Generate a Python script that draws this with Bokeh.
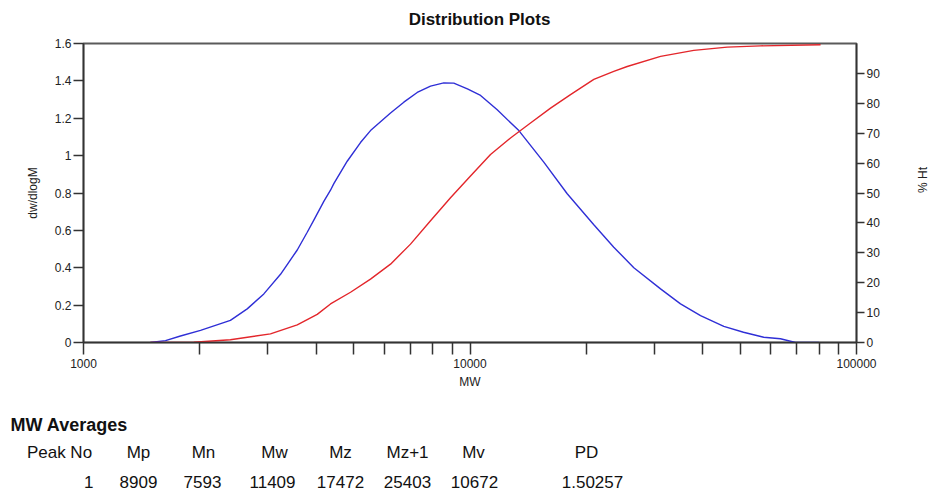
import math

from bokeh.core.properties import value
from bokeh.embed import file_html
from bokeh.layouts import column
from bokeh.models import (ColumnDataSource, CustomJSTickFormatter, FixedTicker,
                          LinearAxis, PrintfTickFormatter, Range1d)
from bokeh.plotting import figure
from bokeh.resources import INLINE

FONT = "Liberation Sans"

# Differential distribution dw/dlogM versus molecular weight
dist_mw = [1490, 1630, 1782, 2008, 2399, 2652, 2928, 3234, 3573, 3792, 3944,
           4186, 4356, 4443, 4812, 5208, 5528, 6228, 6742, 7302, 7904, 8554,
           9078, 9846, 10650, 11760, 13378, 15520, 17845, 20910, 23550, 26540,
           31120, 35050, 39490, 45360, 51010, 57540, 63560, 69500, 79900]
dist_dwdlogm = [0.0, 0.01, 0.035, 0.065, 0.118, 0.18, 0.26, 0.365, 0.495,
                0.59, 0.655, 0.755, 0.815, 0.85, 0.97, 1.07, 1.134, 1.228,
                1.286, 1.338, 1.372, 1.389, 1.388, 1.357, 1.322, 1.245, 1.134,
                0.965, 0.796, 0.63, 0.51, 0.40, 0.287, 0.207, 0.144, 0.086,
                0.055, 0.028, 0.02, 0.0, 0.0]

# Cumulative distribution (% Ht) versus molecular weight
cum_mw = [1490, 1930, 2399, 3046, 3573, 4024, 4356, 4908, 5528, 6228, 7016,
          7904, 8904, 10030, 11300, 12730, 14340, 16160, 18200, 20910, 23550,
          25510, 31120, 37930, 46290, 56430, 80730]
cum_pct = [0.0, 0.1, 0.9, 2.9, 5.9, 9.4, 12.9, 16.8, 21.2, 26.2, 32.9, 40.7,
           48.4, 55.7, 62.9, 68.4, 73.4, 78.4, 82.9, 88.0, 90.7, 92.3, 95.7,
           97.7, 98.8, 99.2, 99.6]

# Axis ticks
x_major = [1000, 10000, 100000]
x_minor = [2000, 3000, 4000, 5000, 6000, 7000, 8000, 9000,
           20000, 30000, 40000, 50000, 60000, 70000, 80000, 90000]
left_ticks = [0, 0.2, 0.4, 0.6, 0.8, 1.0, 1.2, 1.4, 1.6]
right_ticks = [0, 10, 20, 30, 40, 50, 60, 70, 80, 90]

chart_title = "Distribution Plots"

# MW averages table
table_title = "MW Averages"
table_headers = ["Peak No", "Mp", "Mn", "Mw", "Mz", "Mz+1", "Mv", "PD"]
peak_no = [1]
mp = [8909]
mn = [7593]
mw = [11409]
mz = [17472]
mz1 = [25403]
mv = [10672]
pd_ = [1.50257]

AXIS_COLOR = "#333333"
TEXT_COLOR = "#111111"
BLUE = "#2f2fd6"
RED = "#e3262b"


def text_strip(height):
    """A bare figure whose data units are canvas pixels (y measured downward)."""
    f = figure(width=940, height=height, x_range=Range1d(0, 940),
               y_range=Range1d(height, 0), output_backend="svg",
               toolbar_location=None, min_border=0)
    f.frame_align = False
    f.axis.visible = False
    f.grid.visible = False
    f.outline_line_color = None
    return f


# title strip
HEAD_H = 30
head = text_strip(HEAD_H)
head.text(x=[479], y=[19], text=[chart_title], text_font=value(FONT),
          text_font_size="17px", text_font_style="bold", text_color=TEXT_COLOR,
          text_baseline="middle", text_align="center")

# main chart
p = figure(width=940, height=368, x_axis_type="log",
           x_range=Range1d(1000, 100000), y_range=Range1d(0, 1.6),
           output_backend="svg", toolbar_location=None,
           min_border_left=83, min_border_right=84,
           min_border_top=13, min_border_bottom=56)
p.frame_align = False
p.extra_y_ranges = {"pct": Range1d(0, 100)}

p.grid.visible = False
p.background_fill_color = "white"
p.border_fill_color = "white"
p.outline_line_color = "#5a5a5a"
p.outline_line_width = 2

# bottom log axis
xa = p.xaxis[0]
xa.ticker = FixedTicker(ticks=x_major, minor_ticks=x_minor)
xa.formatter = PrintfTickFormatter(format="%d")
xa.axis_label = "MW"
xa.major_tick_out = 12
xa.minor_tick_out = 12
xa.major_tick_in = 0
xa.minor_tick_in = 0
xa.major_label_standoff = 4
xa.axis_label_standoff = 4

# left axis
ya = p.yaxis[0]
ya.ticker = FixedTicker(ticks=left_ticks)
ya.formatter = CustomJSTickFormatter(
    code="return tick.toFixed(1).replace(/\\.0$/, '');")
ya.axis_label = "dw/dlogM"
ya.major_tick_out = 10
ya.major_tick_in = 0
ya.minor_tick_out = 0
ya.minor_tick_in = 0
ya.major_label_standoff = 2
ya.axis_label_standoff = 12

# right axis for cumulative percentage
ra = LinearAxis(y_range_name="pct", ticker=FixedTicker(ticks=right_ticks),
                axis_label="% Ht")
ra.major_tick_out = 8
ra.major_tick_in = 0
ra.minor_tick_out = 0
ra.minor_tick_in = 0
ra.major_label_standoff = 2
ra.axis_label_standoff = 40
ra.axis_label_orientation = math.pi / 2
p.add_layout(ra, "right")

for ax in (xa, ya, ra):
    ax.axis_line_color = AXIS_COLOR
    ax.axis_line_width = 1.5
    ax.major_tick_line_color = AXIS_COLOR
    ax.minor_tick_line_color = AXIS_COLOR
    ax.major_tick_line_width = 1.5
    ax.minor_tick_line_width = 1.5
    ax.major_label_text_font = FONT
    ax.major_label_text_font_size = "12px"
    ax.major_label_text_color = "#222222"
    ax.axis_label_text_font = FONT
    ax.axis_label_text_font_size = "12px"
    ax.axis_label_text_font_style = "normal"
    ax.axis_label_text_color = "#222222"

p.line(dist_mw, dist_dwdlogm, line_color=BLUE, line_width=1.4)
p.line(cum_mw, cum_pct, line_color=RED, line_width=1.4, y_range_name="pct")

# table of averages below the chart
TH = 94
t = text_strip(TH)

head_x = [59, 138, 203, 274, 340, 407, 473, 586]
val_x = [93, 138, 202, 272, 340, 407, 474, 592]
val_align = ["right"] + ["center"] * 7
row_values = [str(peak_no[0]), str(mp[0]), str(mn[0]), str(mw[0]), str(mz[0]),
              str(mz1[0]), str(mv[0]), f"{pd_[0]:.5f}"]

t.text(x=[10], y=[26], text=[table_title], text_font=value(FONT),
       text_font_size="18px", text_font_style="bold", text_color=TEXT_COLOR,
       text_baseline="middle", text_align="left")
t.text(x="x", y="y", text="text", text_align="center",
       source=ColumnDataSource(dict(x=head_x, y=[54] * 8,
                                    text=table_headers)),
       text_font=value(FONT), text_font_size="17px", text_color=TEXT_COLOR,
       text_baseline="middle")
t.text(x="x", y="y", text="text", text_align="align",
       source=ColumnDataSource(dict(x=val_x, y=[83] * 8, text=row_values,
                                    align=val_align)),
       text_font=value(FONT), text_font_size="17px", text_color=TEXT_COLOR,
       text_baseline="middle")

layout = column(head, p, t, spacing=0)
open("out.html", "w").write(file_html(layout, INLINE))
